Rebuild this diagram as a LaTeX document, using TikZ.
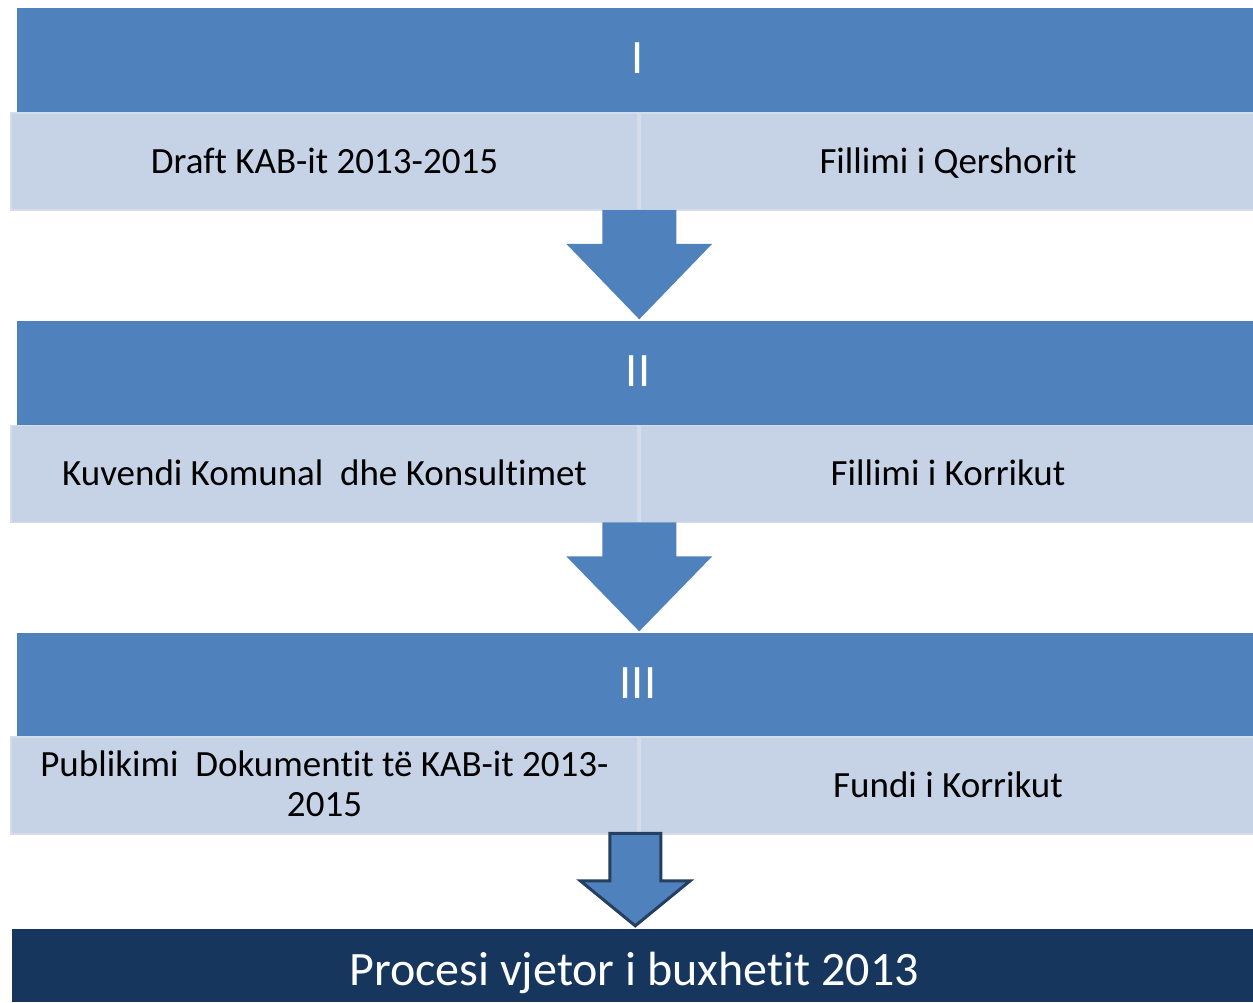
\documentclass[tikz,border=0pt]{standalone}
\usepackage{fontspec}
\setmainfont{Carlito}[Ligatures=NoCommon]
\usetikzlibrary{calc}
\definecolor{hdr}{HTML}{4F81BD}
\definecolor{rowc}{HTML}{C6D2E5}
\definecolor{rowe}{HTML}{D5DDEB}
\definecolor{bar}{HTML}{17365D}
\definecolor{aout}{HTML}{243F60}
\begin{document}
\begin{tikzpicture}[x=1pt,y=-1pt,
  hdrbox/.style={fill=hdr, draw=none, text=white, inner sep=0pt,
    font=\fontsize{48}{50}\selectfont, minimum width=1242pt, minimum height=105pt,
    text height=30pt, text depth=3pt},
  cell/.style={fill=rowc, draw=rowe, line width=1.5pt, inner sep=0pt, text=black,
    font=\fontsize{37}{40}\selectfont, minimum height=97pt, align=center,
    text height=24pt, text depth=1pt},
  leftcell/.style={cell, minimum width=627pt},
  rightcell/.style={cell, minimum width=616pt},
  barbox/.style={fill=bar, draw=none, text=white, inner sep=0pt,
    font=\fontsize{48}{52}\selectfont, minimum width=1244pt, minimum height=73pt,
    text height=40pt, text depth=1pt},
  blockarrow/.style={fill=hdr, draw=none},
  outarrow/.style={fill=hdr, draw=aout, line width=3pt, miter limit=10}
]
\useasboundingbox (0,0) rectangle (1253,1002);
\fill[white] (0,0) rectangle (1253,1002);

% stage I
\node[hdrbox] (h1) at (638,60) {I};
\node[leftcell] (r1l) at (324.5,161.5) {Draft KAB-it 2013-2015};
\node[rightcell] (r1r) at (948,161.5) {Fillimi i Qershorit};

% stage II
\node[hdrbox] (h2) at (638,373) {II};
\node[leftcell] (r2l) at (324.5,474) {Kuvendi Komunal~ dhe Konsultimet};
\node[rightcell] (r2r) at (948,474) {Fillimi i Korrikut};

% stage III
\node[hdrbox] (h3) at (638,685) {III};
\node[leftcell, text height=63pt, text depth=1pt] (r3l) at (324.5,785.5) {Publikimi~ Dokumentit të KAB-it 2013-\\2015};
\node[rightcell] (r3r) at (948,785.5) {Fundi i Korrikut};

% bottom bar
\node[barbox] (b) at (634,965.5) {Procesi vjetor i buxhetit 2013};

% arrow I -> II
\coordinate (a1) at ($(r1l.south east)+(0.5,0)$);
\coordinate (t1) at (a1 |- h2.north);
\fill[blockarrow] ($(a1)+(-37,-1)$) -- ($(a1)+(37,-1)$) -- ($(a1)+(37,33)$) -- ($(a1)+(73,33)$)
  -- ($(t1)+(0,-1)$) -- ($(a1)+(-73,33)$) -- ($(a1)+(-37,33)$) -- cycle;

% arrow II -> III
\coordinate (a2) at ($(r2l.south east)+(0.5,0)$);
\coordinate (t2) at (a2 |- h3.north);
\fill[blockarrow] ($(a2)+(-37,-1)$) -- ($(a2)+(37,-1)$) -- ($(a2)+(37,33)$) -- ($(a2)+(73,33)$)
  -- ($(t2)+(0,-1)$) -- ($(a2)+(-73,33)$) -- ($(a2)+(-37,33)$) -- cycle;

% arrow III -> bar
\coordinate (a3) at ($(r3l.south east)+(-3.5,0)$);
\coordinate (t3) at (a3 |- b.north);
\draw[outarrow] ($(a3)+(-25.5,-1.5)$) -- ($(a3)+(25.5,-1.5)$) -- ($(a3)+(25.5,46)$) -- ($(a3)+(55,46)$)
  -- ($(t3)+(0,-3)$) -- ($(a3)+(-55,46)$) -- ($(a3)+(-25.5,46)$) -- cycle;
\end{tikzpicture}
\end{document}
